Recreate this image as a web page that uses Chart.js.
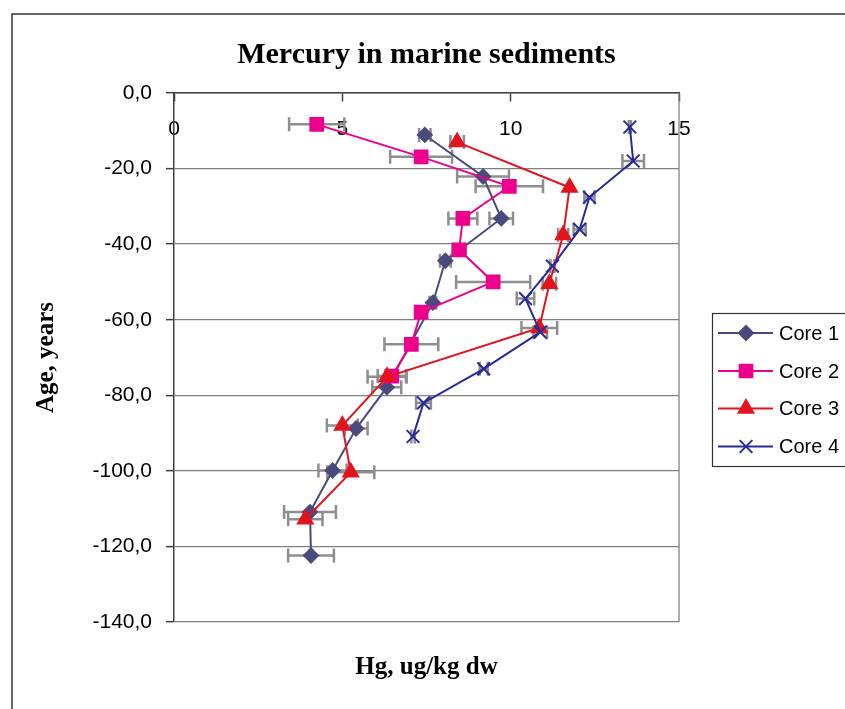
<!DOCTYPE html>
<html>
<head>
<meta charset="utf-8">
<title>Mercury in marine sediments</title>
<script src="https://cdn.jsdelivr.net/npm/chart.js@4"></script>
<style>
  html, body { margin: 0; padding: 0; background: #fff; }
</style>
</head>
<body>
<canvas id="chart" width="845" height="709"></canvas>
<script>
const seriesNames = ['Core 1', 'Core 2', 'Core 3', 'Core 4'];

// Hg (ug/kg dw), age (years) and +/- error for each core
const core1Hg  = [7.45, 9.18, 9.72, 8.06, 7.69, 6.32, 5.41, 4.71, 4.04, 4.07];
const core1Age = [-11.1, -22.1, -33.2, -44.4, -55.5, -77.9, -88.8, -99.9, -110.9, -122.4];
const core1Err = [0.17, 0.77, 0.35, 0.16, 0.1, 0.43, 0.34, 0.42, 0.77, 0.68];

const core2Hg  = [4.24, 7.34, 9.96, 8.58, 8.47, 9.48, 7.34, 7.05, 6.47];
const core2Age = [-8.3, -16.9, -24.7, -33.2, -41.5, -50.0, -58.0, -66.5, -74.9];
const core2Err = [0.82, 0.92, 1.0, 0.43, 0.2, 1.1, 0.1, 0.8, 0.42];

const core3Hg  = [8.41, 11.75, 11.56, 11.15, 10.85, 6.33, 5.0, 5.25, 3.9];
const core3Age = [-13.0, -25.0, -37.6, -50.5, -62.2, -75.1, -88.0, -100.4, -112.8];
const core3Err = [0.2, 0, 0.15, 0.2, 0.53, 0.58, 0.46, 0.7, 0.51];

const core4Hg  = [13.54, 13.64, 12.34, 12.05, 11.24, 10.44, 10.88, 9.2, 7.41, 7.1];
const core4Age = [-9.0, -18.0, -27.6, -36.1, -45.8, -54.4, -63.3, -73.0, -82.0, -90.9];
const core4Err = [0.03, 0.32, 0.15, 0.18, 0.06, 0.26, 0.2, 0.12, 0.22, 0.05];

const cores = [
  { hg: core1Hg, age: core1Age, err: core1Err, color: '#4b4a7c', style: 'rectRot', radius: 7 },
  { hg: core2Hg, age: core2Age, err: core2Err, color: '#ec008c', style: 'rect', radius: 9 },
  { hg: core3Hg, age: core3Age, err: core3Err, color: '#e3141e', style: 'triangle', radius: 8.5 },
  { hg: core4Hg, age: core4Age, err: core4Err, color: '#2a2a96', style: 'crossRot', radius: 9 }
];

Chart.defaults.font.family = "'Liberation Sans', Arial, sans-serif";
Chart.defaults.color = '#000';

const serif = "'Liberation Serif', 'Times New Roman', serif";
const axisColor = '#404040';
const gridColor = '#808080';

// horizontal error bars, drawn under the series
const errorBars = {
  id: 'errorBars',
  beforeDatasetsDraw(chart) {
    const { ctx, scales: { x, y } } = chart;
    ctx.save();
    ctx.strokeStyle = '#8e8e8e';
    ctx.lineWidth = 2.5;
    cores.forEach(c => {
      c.hg.forEach((v, i) => {
        const e = c.err[i];
        if (!e) return;
        const py = y.getPixelForValue(c.age[i]);
        const x0 = x.getPixelForValue(v - e);
        const x1 = x.getPixelForValue(v + e);
        ctx.beginPath();
        ctx.moveTo(x0, py); ctx.lineTo(x1, py);
        ctx.moveTo(x0, py - 7); ctx.lineTo(x0, py + 7);
        ctx.moveTo(x1, py - 7); ctx.lineTo(x1, py + 7);
        ctx.stroke();
      });
    });
    ctx.restore();
  }
};

// outer frame plus right edge of the plot area
const frame = {
  id: 'frame',
  beforeDraw(chart) {
    const ctx = chart.ctx;
    ctx.save();
    ctx.strokeStyle = '#333';
    ctx.lineWidth = 1.5;
    ctx.beginPath();
    ctx.moveTo(12, 709);
    ctx.lineTo(12, 14);
    ctx.lineTo(845, 14);
    ctx.stroke();
    ctx.restore();
  },
  beforeDatasetsDraw(chart) {
    const { ctx, chartArea: a } = chart;
    ctx.save();
    ctx.strokeStyle = gridColor;
    ctx.lineWidth = 1.3;
    ctx.beginPath();
    ctx.moveTo(a.right, a.top);
    ctx.lineTo(a.right, a.bottom);
    ctx.stroke();
    ctx.restore();
  }
};

// boxed legend with line + marker samples
const legendBox = {
  id: 'legendBox',
  afterDraw(chart) {
    const ctx = chart.ctx;
    ctx.save();
    ctx.strokeStyle = '#333';
    ctx.lineWidth = 1.2;
    ctx.strokeRect(712.5, 313.5, 150, 153);
    const rows = [333, 371, 408.5, 446.5];
    cores.forEach((c, i) => {
      const y = rows[i];
      ctx.strokeStyle = c.color;
      ctx.lineWidth = 2;
      ctx.beginPath();
      ctx.moveTo(718, y);
      ctx.lineTo(773, y);
      ctx.stroke();
      ctx.fillStyle = c.color;
      Chart.helpers.drawPoint(ctx, {
        pointStyle: c.style, radius: c.radius, rotation: 0, borderWidth: 2
      }, 746, y);
      ctx.fillStyle = '#000';
      ctx.font = "20px 'Liberation Sans', Arial, sans-serif";
      ctx.textAlign = 'left';
      ctx.textBaseline = 'middle';
      ctx.fillText(seriesNames[i], 779, y + 1);
    });
    ctx.restore();
  }
};

const datasets = cores.map((c, i) => ({
  label: seriesNames[i],
  data: c.hg.map((v, j) => ({ x: v, y: c.age[j] })),
  showLine: true,
  borderColor: c.color,
  backgroundColor: c.color,
  borderWidth: 2,
  pointStyle: c.style,
  pointRadius: c.radius,
  pointHoverRadius: c.radius,
  pointBorderWidth: 2,
  order: cores.length - i
}));

new Chart(document.getElementById('chart'), {
  type: 'scatter',
  data: { datasets: datasets },
  options: {
    responsive: false,
    animation: false,
    layout: { padding: { left: 0, top: 0, right: 166, bottom: 0 } },
    plugins: {
      legend: { display: false },
      tooltip: { enabled: false },
      title: {
        display: true,
        fullSize: false,
        text: 'Mercury in marine sediments',
        color: '#000',
        font: { family: serif, size: 30, weight: 'bold', lineHeight: 1.2 },
        padding: { top: 37, bottom: 20 }
      }
    },
    scales: {
      x: {
        type: 'linear',
        min: 0,
        max: 15,
        position: { y: 0 },
        ticks: { stepSize: 5, padding: 16, font: { size: 21 }, color: '#000' },
        grid: { drawOnChartArea: false, tickLength: 8, tickColor: axisColor, tickWidth: 1.5 },
        border: { display: true, color: axisColor, width: 1.5 }
      },
      xTitle: {
        type: 'linear',
        axis: 'x',
        position: 'bottom',
        ticks: { display: false },
        grid: { display: false },
        border: { display: false },
        title: {
          display: true,
          text: 'Hg, ug/kg dw',
          color: '#000',
          font: { family: serif, size: 25, weight: 'bold', lineHeight: 1.2 },
          padding: { top: 0, bottom: 26 }
        },
        afterFit(s) { s.height = 87; }
      },
      y: {
        type: 'linear',
        min: -140,
        max: 0,
        position: 'left',
        ticks: {
          stepSize: 20,
          padding: 14,
          font: { size: 21 },
          color: '#000',
          callback: v => v.toFixed(1).replace('.', ',')
        },
        grid: { color: gridColor, lineWidth: 1.3, tickLength: 8, tickColor: axisColor, tickWidth: 1.5 },
        border: { display: true, color: axisColor, width: 1.5 },
        title: {
          display: true,
          text: 'Age, years',
          color: '#000',
          font: { family: serif, size: 25, weight: 'bold', lineHeight: 1.2 },
          padding: { top: 32, bottom: 0 }
        },
        afterFit(s) { s.width = 174; }
      }
    }
  },
  plugins: [frame, errorBars, legendBox]
});
</script>
</body>
</html>
